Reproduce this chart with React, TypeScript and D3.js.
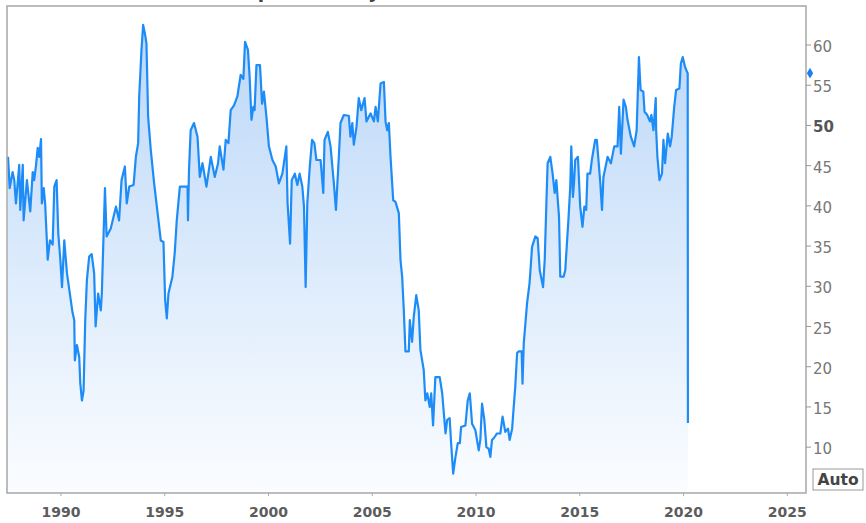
import * as d3 from "d3";

// monthly readings, [year, index]
const traffic1987_1991: [number, number][] = [
  [1987.45, 46.1], [1987.53, 42.2], [1987.67, 44.2], [1987.75, 43.2], [1987.83, 40.3],
  [1987.99, 45.1], [1988.04, 39.5], [1988.16, 45.1], [1988.2, 38.2], [1988.36, 43.2],
  [1988.52, 39.3], [1988.64, 44.2], [1988.71, 43.2], [1988.8, 45.1], [1988.88, 47.2],
  [1988.95, 46.1], [1989.04, 48.3], [1989.08, 40.3], [1989.17, 42.2], [1989.24, 40.2],
  [1989.32, 35.7], [1989.36, 33.3], [1989.47, 35.7], [1989.6, 35.2], [1989.68, 42.4],
  [1989.79, 43.2], [1989.87, 36.6], [1989.97, 33.3], [1990.05, 29.9], [1990.16, 35.7],
  [1990.29, 31.6], [1990.56, 26.7], [1990.64, 25.8], [1990.67, 20.8], [1990.77, 22.7],
  [1990.88, 21.2], [1990.93, 18.0], [1991.01, 15.8], [1991.09, 17.0], [1991.17, 25.8],
  [1991.25, 30.8], [1991.36, 33.7], [1991.48, 34.0], [1991.6, 31.6], [1991.67, 25.0],
  [1991.79, 29.1], [1991.92, 27.0], [1991.97, 29.1],
];

const traffic1992_1999: [number, number][] = [
  [1992.05, 36.2], [1992.12, 42.2], [1992.2, 36.2], [1992.4, 37.2], [1992.65, 39.9],
  [1992.8, 38.2], [1992.92, 43.2], [1993.08, 44.9], [1993.17, 40.3], [1993.29, 42.4],
  [1993.5, 42.6], [1993.61, 46.1], [1993.72, 47.8], [1993.77, 53.6], [1993.88, 59.4],
  [1993.96, 62.5], [1994.04, 61.5], [1994.12, 60.2], [1994.2, 51.1], [1994.33, 46.9],
  [1994.49, 42.8], [1994.68, 38.6], [1994.81, 35.7], [1994.94, 35.5], [1995.02, 28.3],
  [1995.1, 26.0], [1995.18, 29.1], [1995.37, 31.2], [1995.48, 34.1], [1995.58, 38.2],
  [1995.73, 42.4], [1996.1, 42.4], [1996.12, 38.2], [1996.17, 44.5], [1996.25, 49.4],
  [1996.41, 50.3], [1996.58, 48.6], [1996.69, 43.6], [1996.82, 45.3], [1997.01, 42.4],
  [1997.22, 46.1], [1997.41, 43.6], [1997.57, 45.3], [1997.65, 47.4], [1997.83, 44.5],
  [1997.94, 48.2], [1998.07, 47.8], [1998.18, 51.9], [1998.34, 52.5], [1998.5, 53.6],
  [1998.66, 56.3], [1998.79, 55.8], [1998.87, 60.4], [1999.01, 59.4], [1999.09, 56.1],
  [1999.18, 50.7], [1999.27, 52.3], [1999.33, 51.9], [1999.42, 57.5], [1999.59, 57.5],
  [1999.69, 52.7], [1999.78, 54.2], [1999.9, 51.1],
];

const traffic2000_2007: [number, number][] = [
  [2000.02, 47.4], [2000.19, 45.7], [2000.35, 44.9], [2000.5, 42.8], [2000.67, 44.0],
  [2000.86, 47.4], [2000.92, 40.3], [2001.04, 35.3], [2001.12, 43.2], [2001.27, 44.0],
  [2001.39, 42.6], [2001.5, 44.0], [2001.63, 42.4], [2001.71, 39.9], [2001.79, 29.9],
  [2001.87, 40.3], [2001.99, 44.9], [2002.1, 48.2], [2002.21, 47.8], [2002.31, 45.7],
  [2002.51, 45.7], [2002.64, 41.6], [2002.7, 48.2], [2002.86, 49.2], [2002.99, 47.4],
  [2003.15, 42.8], [2003.25, 39.5], [2003.39, 46.1], [2003.47, 50.3], [2003.63, 51.3],
  [2003.87, 51.2], [2003.95, 48.6], [2004.04, 50.3], [2004.11, 47.6], [2004.24, 49.8],
  [2004.35, 53.4], [2004.47, 51.9], [2004.63, 53.4], [2004.72, 50.5], [2004.92, 51.5],
  [2005.08, 50.5], [2005.16, 52.3], [2005.27, 50.5], [2005.4, 55.2], [2005.56, 55.4],
  [2005.64, 50.5], [2005.72, 49.4], [2005.8, 50.3], [2005.88, 46.1], [2006.01, 40.7],
  [2006.12, 40.5], [2006.28, 39.1], [2006.36, 33.3], [2006.44, 31.2], [2006.52, 27.0],
  [2006.6, 21.9], [2006.76, 21.9], [2006.81, 25.8], [2006.92, 23.1], [2007.0, 26.2],
  [2007.12, 28.9], [2007.24, 27.0], [2007.32, 22.1], [2007.48, 19.6], [2007.56, 15.8],
  [2007.65, 16.7], [2007.77, 15.0], [2007.84, 16.7], [2007.93, 12.7],
];

const traffic2008_2013: [number, number][] = [
  [2008.04, 18.7], [2008.25, 18.7], [2008.37, 16.7], [2008.53, 11.7], [2008.61, 13.4],
  [2008.73, 13.6], [2008.8, 10.5], [2008.9, 6.7], [2009.01, 8.8], [2009.12, 10.5],
  [2009.22, 10.5], [2009.28, 12.5], [2009.49, 12.7], [2009.6, 15.8], [2009.7, 16.7],
  [2009.81, 12.9], [2009.97, 12.1], [2010.13, 9.6], [2010.21, 11.0], [2010.29, 15.4],
  [2010.4, 13.4], [2010.5, 10.0], [2010.61, 9.8], [2010.69, 8.8], [2010.77, 10.9],
  [2010.88, 11.2], [2011.01, 11.7], [2011.17, 11.7], [2011.28, 13.8], [2011.41, 11.9],
  [2011.54, 12.3], [2011.62, 10.9], [2011.74, 12.3], [2011.81, 14.8], [2011.89, 17.5],
  [2011.98, 21.7], [2012.05, 21.9], [2012.2, 21.9], [2012.24, 17.9], [2012.3, 22.9],
  [2012.46, 27.9], [2012.58, 30.4], [2012.7, 34.9], [2012.86, 36.2], [2012.97, 36.0],
  [2013.07, 32.0], [2013.23, 29.9], [2013.31, 33.3], [2013.39, 40.3], [2013.45, 45.3],
  [2013.58, 46.1], [2013.69, 44.0], [2013.79, 41.6], [2013.87, 43.2],
];

const traffic2014_2020: [number, number][] = [
  [2014.0, 38.6], [2014.06, 31.2], [2014.22, 31.2], [2014.3, 32.0], [2014.46, 38.6],
  [2014.54, 42.4], [2014.59, 47.4], [2014.67, 41.1], [2014.73, 43.2], [2014.78, 45.7],
  [2014.91, 46.1], [2015.02, 39.9], [2015.13, 37.4], [2015.22, 39.9], [2015.31, 39.5],
  [2015.37, 44.0], [2015.5, 44.0], [2015.58, 45.7], [2015.74, 48.2], [2015.82, 48.2],
  [2015.9, 45.7], [2015.99, 42.8], [2016.07, 39.5], [2016.14, 43.6], [2016.34, 46.1],
  [2016.5, 45.3], [2016.66, 47.4], [2016.82, 47.4], [2016.9, 52.3], [2016.98, 46.5],
  [2017.11, 53.2], [2017.22, 52.3], [2017.3, 50.7], [2017.46, 48.6], [2017.62, 47.4],
  [2017.74, 49.4], [2017.85, 58.5], [2017.93, 54.4], [2018.06, 54.2], [2018.12, 51.7],
  [2018.25, 51.3], [2018.38, 50.5], [2018.45, 51.3], [2018.55, 49.4], [2018.66, 53.4],
  [2018.68, 49.4], [2018.74, 46.1], [2018.84, 43.2], [2018.96, 44.0], [2019.03, 48.2],
  [2019.11, 45.3], [2019.24, 49.0], [2019.35, 47.4], [2019.43, 48.6], [2019.55, 52.3],
  [2019.64, 54.4], [2019.8, 54.6], [2019.87, 57.7], [2019.96, 58.5], [2020.07, 57.3],
  [2020.16, 56.7], [2020.2, 56.5], [2020.21, 13.0],
];

const yearTicks = [1990, 1995, 2000, 2005, 2010, 2015, 2020, 2025];
const valueTicks = [10, 15, 20, 25, 30, 35, 40, 45, 50, 55, 60];
const boldTick = 50;
const markerValue = 56.5;
const titleText = "NAHB Traffic of Prospective Buyers";

const W = 866;
const H = 523;
const plot = { left: 7, right: 806, top: 6, bottom: 493 };

export default function App() {
  const data = [
    ...traffic1987_1991,
    ...traffic1992_1999,
    ...traffic2000_2007,
    ...traffic2008_2013,
    ...traffic2014_2020,
  ];

  const x = d3.scaleLinear().domain([1987.4, 2025.9]).range([plot.left, plot.right]);
  const y = d3.scaleLinear().domain([4.3, 64.85]).range([plot.bottom, plot.top]);

  const line = d3
    .line<[number, number]>()
    .x((d) => x(d[0]))
    .y((d) => y(d[1]));

  const area = d3
    .area<[number, number]>()
    .x((d) => x(d[0]))
    .y0(plot.bottom)
    .y1((d) => y(d[1]));

  const diamond = d3.symbol(d3.symbolDiamond, 34)();

  return (
    <svg
      width={W}
      height={H}
      style={{ position: "absolute", left: 0, top: 0, background: "#fff" }}
      fontFamily="DejaVu Sans, Verdana, sans-serif"
    >
      <defs>
        <linearGradient id="fillGrad" gradientUnits="userSpaceOnUse" x1={0} y1={plot.top} x2={0} y2={plot.bottom}>
          <stop offset="0%" stopColor="#b9d6f8" />
          <stop offset="100%" stopColor="#fbfdff" />
        </linearGradient>
        <clipPath id="plotClip">
          <rect x={plot.left} y={plot.top} width={plot.right - plot.left} height={plot.bottom - plot.top} />
        </clipPath>
      </defs>

      {/* title, only its descenders peek in at the top like the reference */}
      <text x={48} y={-2} fontSize={18.5} fontWeight="bold" fill="#444">
        {titleText}
      </text>

      <g clipPath="url(#plotClip)">
        <path d={area(data) ?? ""} fill="url(#fillGrad)" />
        <path d={line(data) ?? ""} fill="none" stroke="#1e8cf7" strokeWidth={2.2} strokeLinejoin="round" />
      </g>

      {/* frame */}
      <rect
        x={plot.left}
        y={plot.top}
        width={plot.right - plot.left}
        height={plot.bottom - plot.top}
        fill="none"
        stroke="#a6a6a6"
        strokeWidth={1.5}
      />

      {/* right axis */}
      {valueTicks.map((t) => (
        <g key={t}>
          <line x1={plot.right} x2={plot.right + 5} y1={y(t)} y2={y(t)} stroke="#999" strokeWidth={1} />
          <text
            x={plot.right + 7}
            y={y(t) + 2}
            dominantBaseline="central"
            fontSize={15}
            fontWeight={t === boldTick ? "bold" : "normal"}
            fill={t === boldTick ? "#555" : "#777"}
          >
            {t}
          </text>
        </g>
      ))}

      {/* last value marker */}
      <path d={diamond ?? ""} transform={`translate(${plot.right + 4},${y(markerValue)})`} fill="#1a7ff0" />

      {/* bottom axis */}
      {yearTicks.map((t) => (
        <g key={t}>
          <line x1={x(t)} x2={x(t)} y1={plot.bottom} y2={plot.bottom + 3} stroke="#aaa" strokeWidth={1} />
          <text
            x={x(t)}
            y={512}
            textAnchor="middle"
            dominantBaseline="central"
            fontSize={14}
            fontWeight="bold"
            fill="#5c5c5c"
          >
            {t}
          </text>
        </g>
      ))}

      {/* auto-scale button */}
      <rect x={813} y={469} width={50} height={21} fill="#fff" stroke="#999" strokeWidth={1} />
      <text x={838} y={480} textAnchor="middle" dominantBaseline="central" fontSize={15.5} fontWeight="bold" fill="#444">
        Auto
      </text>
    </svg>
  );
}
